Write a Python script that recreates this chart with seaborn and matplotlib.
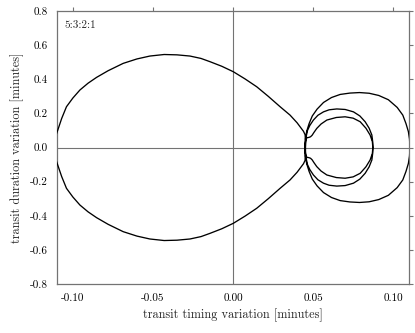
"""
Transit timing vs transit duration variation for the 5:3:2:1 resonant chain.
Points read off the reference picture, listed in path order along the closed curve.
"""

import matplotlib
matplotlib.use("Agg")
import matplotlib.pyplot as plt
import pandas as pd
import seaborn as sns


LABEL = "5:3:2:1"

# teardrop, upper arc (left -> right)
TEAR_TOP_X = [-0.1115, -0.1110, -0.1095, -0.1070, -0.1040, -0.1000, -0.0956, -0.0905,
              -0.0852, -0.0780, -0.0686, -0.0600, -0.0519, -0.0430, -0.0350, -0.0269,
              -0.0200, -0.0144, -0.0070, 0.0002, 0.0075, 0.0148, 0.0220, 0.0294,
              0.0356, 0.0400, 0.0440, 0.0450]
TEAR_TOP_Y = [0.000, 0.060, 0.100, 0.170, 0.239, 0.290, 0.337, 0.377,
              0.411, 0.450, 0.493, 0.519, 0.536, 0.545, 0.543, 0.536,
              0.522, 0.503, 0.476, 0.444, 0.402, 0.356, 0.300, 0.239,
              0.190, 0.145, 0.095, 0.075]

# down the left edge of the right-hand loops, kink, inner loop lower arc
INNER_LOW_X = [0.0453, 0.0452, 0.0453, 0.0456, 0.0463, 0.0473, 0.0484, 0.0494,
               0.0505, 0.0523, 0.0550, 0.0586, 0.0645, 0.0700, 0.0750, 0.0794,
               0.0830, 0.0856, 0.0870, 0.0873]
INNER_LOW_Y = [0.035, 0.000, -0.035, -0.050, -0.058, -0.059, -0.063, -0.072,
               -0.088, -0.112, -0.138, -0.161, -0.176, -0.180, -0.172, -0.151,
               -0.113, -0.073, -0.035, 0.000]

# middle loop, upper arc (right -> left)
MID_TOP_X = [0.0872, 0.0867, 0.0850, 0.0825, 0.0792, 0.0752, 0.0700, 0.0648,
             0.0600, 0.0565, 0.0530, 0.0502, 0.0480, 0.0465, 0.0457, 0.0452, 0.0450]
MID_TOP_Y = [0.035, 0.073, 0.113, 0.151, 0.185, 0.209, 0.223, 0.226,
             0.221, 0.209, 0.189, 0.161, 0.130, 0.100, 0.065, 0.030, 0.000]

# outer loop, lower arc (left -> right)
OUTER_LOW_X = [0.0452, 0.0460, 0.0475, 0.0495, 0.0525, 0.0565, 0.0615, 0.0669,
               0.0730, 0.0790, 0.0850, 0.0910, 0.0970, 0.1025, 0.1060, 0.1080,
               0.1095, 0.1102, 0.1105]
OUTER_LOW_Y = [-0.050, -0.095, -0.140, -0.185, -0.225, -0.264, -0.293, -0.311,
               -0.319, -0.322, -0.318, -0.305, -0.280, -0.235, -0.190, -0.140,
               -0.093, -0.050, 0.000]

# outer loop, upper arc (right -> left)
OUTER_TOP_X = [0.1102, 0.1095, 0.1080, 0.1060, 0.1025, 0.0970, 0.0910, 0.0850,
               0.0790, 0.0730, 0.0669, 0.0615, 0.0565, 0.0525, 0.0495, 0.0475,
               0.0460, 0.0452, 0.0450]
OUTER_TOP_Y = [0.050, 0.093, 0.140, 0.190, 0.235, 0.280, 0.305, 0.318,
               0.322, 0.319, 0.311, 0.293, 0.264, 0.225, 0.185, 0.140,
               0.095, 0.050, 0.000]

# middle loop, lower arc (left -> right)
MID_LOW_X = [0.0452, 0.0457, 0.0465, 0.0480, 0.0502, 0.0530, 0.0565, 0.0600,
             0.0648, 0.0700, 0.0752, 0.0792, 0.0825, 0.0850, 0.0867, 0.0872, 0.0873]
MID_LOW_Y = [-0.030, -0.065, -0.100, -0.130, -0.161, -0.189, -0.209, -0.221,
             -0.226, -0.223, -0.209, -0.185, -0.151, -0.113, -0.073, -0.035, 0.000]

# inner loop upper arc (right -> left), kink, down the left edge
INNER_TOP_X = [0.0870, 0.0856, 0.0830, 0.0794, 0.0750, 0.0700, 0.0645, 0.0586,
               0.0550, 0.0523, 0.0505, 0.0494, 0.0484, 0.0473, 0.0463, 0.0456,
               0.0453, 0.0452, 0.0451, 0.0450, 0.0450]
INNER_TOP_Y = [0.035, 0.073, 0.113, 0.151, 0.172, 0.180, 0.176, 0.161,
               0.138, 0.112, 0.088, 0.072, 0.063, 0.059, 0.058, 0.050,
               0.035, 0.000, -0.035, -0.060, -0.075]

# teardrop, lower arc (right -> left)
TEAR_LOW_X = [0.0440, 0.0400, 0.0356, 0.0294, 0.0220, 0.0148, 0.0075, 0.0002,
              -0.0070, -0.0144, -0.0200, -0.0269, -0.0350, -0.0430, -0.0519, -0.0600,
              -0.0686, -0.0780, -0.0852, -0.0905, -0.0956, -0.1000, -0.1040, -0.1070,
              -0.1095, -0.1110, -0.1115]
TEAR_LOW_Y = [-0.095, -0.145, -0.190, -0.239, -0.300, -0.356, -0.402, -0.444,
              -0.476, -0.503, -0.522, -0.536, -0.543, -0.545, -0.536, -0.519,
              -0.493, -0.450, -0.411, -0.377, -0.337, -0.290, -0.239, -0.170,
              -0.100, -0.060, 0.000]

X_TICKS = [-0.10, -0.05, 0.00, 0.05, 0.10]
Y_TICKS = [-0.8, -0.6, -0.4, -0.2, 0.0, 0.2, 0.4, 0.6, 0.8]


def build_frame():
    xs = (TEAR_TOP_X + INNER_LOW_X + MID_TOP_X + OUTER_LOW_X
          + OUTER_TOP_X + MID_LOW_X + INNER_TOP_X + TEAR_LOW_X)
    ys = (TEAR_TOP_Y + INNER_LOW_Y + MID_TOP_Y + OUTER_LOW_Y
          + OUTER_TOP_Y + MID_LOW_Y + INNER_TOP_Y + TEAR_LOW_Y)
    return pd.DataFrame({"ttv": xs, "tdv": ys})


def main():
    sns.set_style("white")
    plt.rcParams.update({
        "font.family": ["cmr10", "DejaVu Serif"],
        "font.size": 8,
        "axes.unicode_minus": False,
        "axes.formatter.use_mathtext": False,
        "axes.edgecolor": "0.45",
        "axes.linewidth": 0.9,
        "xtick.direction": "out",
        "ytick.direction": "out",
        "xtick.major.size": 3,
        "ytick.major.size": 3,
        "xtick.major.width": 0.8,
        "ytick.major.width": 0.8,
        "xtick.color": "0.45",
        "ytick.color": "0.45",
        "xtick.labelcolor": "black",
        "ytick.labelcolor": "black",
        "xtick.top": True,
        "ytick.right": True,
        "lines.solid_joinstyle": "round",
    })

    df = build_frame()

    fig = plt.figure(figsize=(4.15, 3.33), dpi=100)
    ax = fig.add_axes([0.137, 0.147, 0.849, 0.820])

    ax.axhline(0, color="0.45", lw=0.8, zorder=1)
    ax.axvline(0, color="0.45", lw=0.8, zorder=1)

    sns.lineplot(data=df, x="ttv", y="tdv", sort=False, estimator=None,
                 color="black", lw=0.95, ax=ax, zorder=3)

    ax.set_xlim(-0.11, 0.11)
    ax.set_ylim(-0.8, 0.8)
    ax.set_xticks(X_TICKS)
    ax.set_xticklabels([f"{v:.2f}" for v in X_TICKS])
    ax.set_yticks(Y_TICKS)
    ax.set_yticklabels([f"{v:.1f}" for v in Y_TICKS])
    ax.tick_params(top=True, right=True, labeltop=False, labelright=False)
    ax.set_xlabel("transit timing variation [minutes]", fontsize=8.8)
    ax.set_ylabel("transit duration variation [minutes]", fontsize=8.8)
    ax.text(0.022, 0.965, LABEL, transform=ax.transAxes, va="top", ha="left",
            fontsize=8)

    fig.savefig("out.png", dpi=100)
    plt.close(fig)


if __name__ == "__main__":
    main()
